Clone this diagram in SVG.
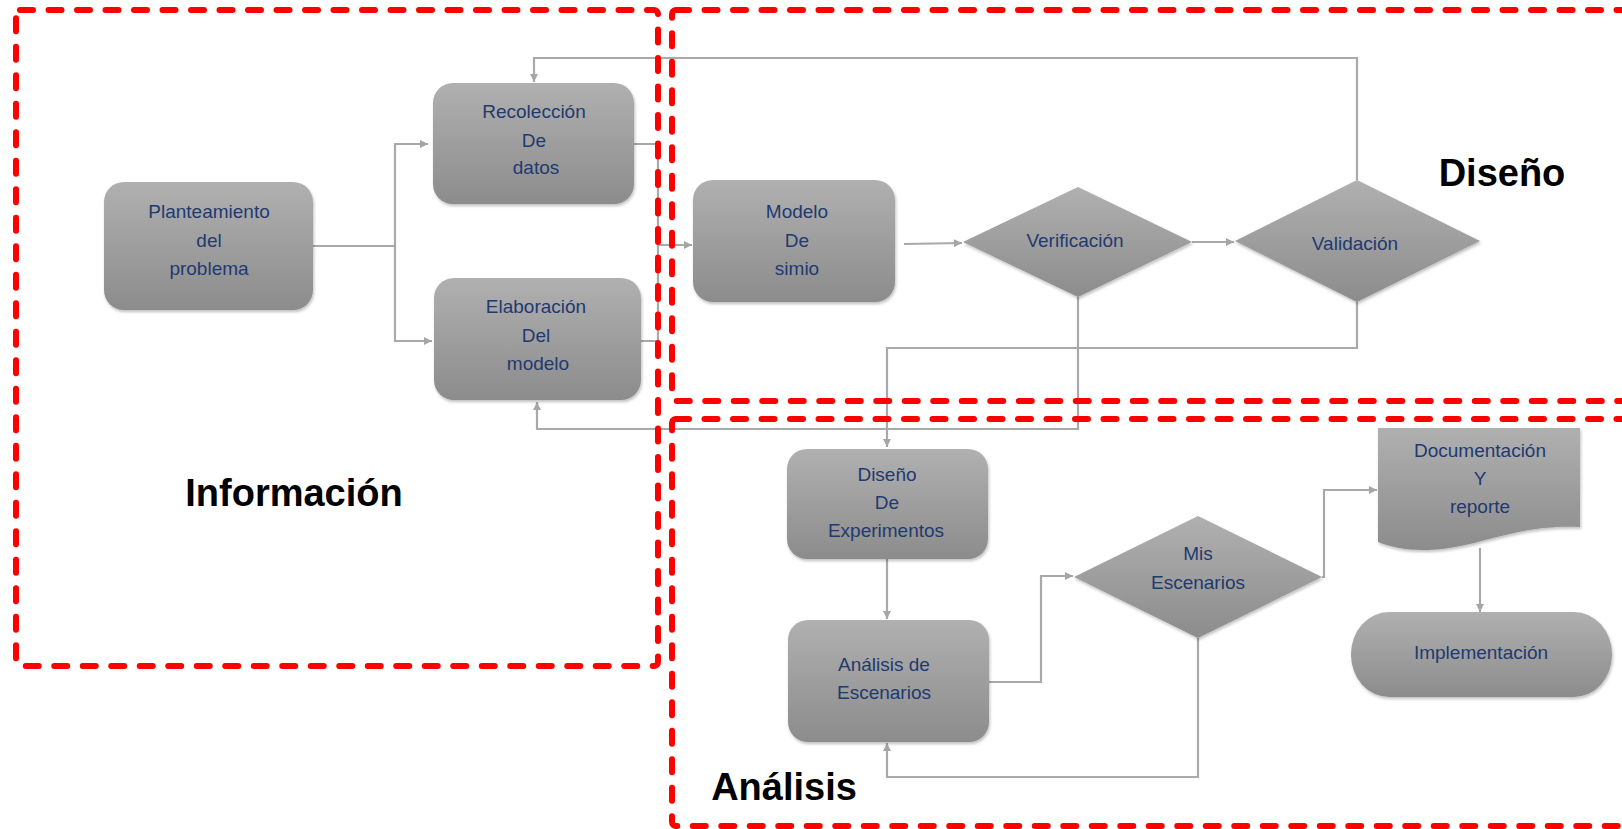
<svg xmlns="http://www.w3.org/2000/svg" width="1622" height="829" viewBox="0 0 1622 829">
<defs>
<linearGradient id="g" x1="0" y1="0" x2="0" y2="1">
<stop offset="0" stop-color="#b0b0b0"/>
<stop offset="1" stop-color="#8c8c8c"/>
</linearGradient>
<filter id="sh" x="-10%" y="-10%" width="120%" height="125%">
<feDropShadow dx="1" dy="2" stdDeviation="1.5" flood-color="#000" flood-opacity="0.25"/>
</filter>
<marker id="ah" markerUnits="userSpaceOnUse" markerWidth="9" markerHeight="8" refX="8" refY="4" orient="auto">
<path d="M0,0 L8,4 L0,8 z" fill="#a6a6a6"/>
</marker>
<style>
.n{fill:url(#g);filter:url(#sh)}
.t{font-family:"Liberation Sans",Arial,sans-serif;font-size:19px;fill:#1f3a70;text-anchor:middle}
.big{font-family:"Liberation Sans",Arial,sans-serif;font-size:38px;font-weight:bold;fill:#000;text-anchor:middle}
.c{fill:none;stroke:#a9a9a9;stroke-width:2.2}
.ca{fill:none;stroke:#a9a9a9;stroke-width:2.2;marker-end:url(#ah)}
.zone{fill:none;stroke:#ff0000;stroke-width:6;stroke-dasharray:13 15.5;stroke-linecap:round}
</style>
</defs>
<rect width="1622" height="829" fill="#fff"/>

<g id="connectors">
<path class="c" d="M313,246 H395"/>
<path class="ca" d="M395,246 V144 H428"/>
<path class="ca" d="M395,246 V341 H432"/>
<path class="c" d="M634,144 H658 V341 H641"/>
<path class="ca" d="M658,245 H692"/>
<path class="ca" d="M904,244 L962,243"/>
<path class="ca" d="M1192,242 H1234"/>
<path class="ca" d="M1357,180 V58 H534 V82"/>
<path class="ca" d="M1357,302 V348 H887 V447"/>
<path class="ca" d="M1078,297 V429 H537 V402"/>
<path class="ca" d="M887,559 V619"/>
<path class="ca" d="M989,682 H1041 V576 H1073"/>
<path class="ca" d="M1322,577 H1324 V490 H1377"/>
<path class="ca" d="M1480,548 V612"/>
<path class="ca" d="M1198,638 V777 H887 V743"/>
</g>

<g id="planteamiento">
<rect class="n" x="104" y="182" width="209" height="128" rx="20"/>
<text class="t" x="209" y="218">Planteamiento</text>
<text class="t" x="209" y="247">del</text>
<text class="t" x="209" y="275">problema</text>
</g>
<g id="recoleccion">
<rect class="n" x="433" y="83" width="201" height="121" rx="20"/>
<text class="t" x="534" y="118">Recolección</text>
<text class="t" x="534" y="147">De</text>
<text class="t" x="536" y="174">datos</text>
</g>
<g id="elaboracion">
<rect class="n" x="434" y="278" width="207" height="122" rx="20"/>
<text class="t" x="536" y="313">Elaboración</text>
<text class="t" x="536" y="342">Del</text>
<text class="t" x="538" y="370">modelo</text>
</g>
<g id="modelo">
<rect class="n" x="693" y="180" width="202" height="122" rx="20"/>
<text class="t" x="797" y="218">Modelo</text>
<text class="t" x="797" y="247">De</text>
<text class="t" x="797" y="275">simio</text>
</g>
<g id="verificacion">
<path class="n" d="M963,242 L1078,187 L1192,242 L1078,297 Z"/>
<text class="t" x="1075" y="247">Verificación</text>
</g>
<g id="validacion">
<path class="n" d="M1235,241 L1357,180 L1480,241 L1357,302 Z"/>
<text class="t" x="1355" y="250">Validación</text>
</g>
<g id="diseno-experimentos">
<rect class="n" x="787" y="449" width="201" height="110" rx="20"/>
<text class="t" x="887" y="481">Diseño</text>
<text class="t" x="887" y="509">De</text>
<text class="t" x="886" y="537">Experimentos</text>
</g>
<g id="analisis-escenarios">
<rect class="n" x="788" y="620" width="201" height="122" rx="20"/>
<text class="t" x="884" y="671">Análisis de</text>
<text class="t" x="884" y="699">Escenarios</text>
</g>
<g id="mis-escenarios">
<path class="n" d="M1074,577 L1198,516 L1322,577 L1198,638 Z"/>
<text class="t" x="1198" y="560">Mis</text>
<text class="t" x="1198" y="589">Escenarios</text>
</g>
<g id="documentacion">
<path class="n" d="M1378,428 H1580 V527 C1520,524 1482,545 1442,549 C1412,552 1394,548 1378,542 Z"/>
<text class="t" x="1480" y="457">Documentación</text>
<text class="t" x="1480" y="485">Y</text>
<text class="t" x="1480" y="513">reporte</text>
</g>
<g id="implementacion">
<rect class="n" x="1351" y="612" width="261" height="85" rx="38" ry="42"/>
<text class="t" x="1481" y="659">Implementación</text>
</g>

<g id="zones">
<rect class="zone" x="16" y="10" width="642" height="656" rx="4"/>
<rect class="zone" x="672" y="10" width="1000" height="391" rx="4"/>
<rect class="zone" x="672" y="419" width="1000" height="407" rx="4"/>
<text class="big" x="294" y="506">Información</text>
<text class="big" x="1502" y="186">Diseño</text>
<text class="big" x="784" y="800">Análisis</text>
</g>
</svg>
